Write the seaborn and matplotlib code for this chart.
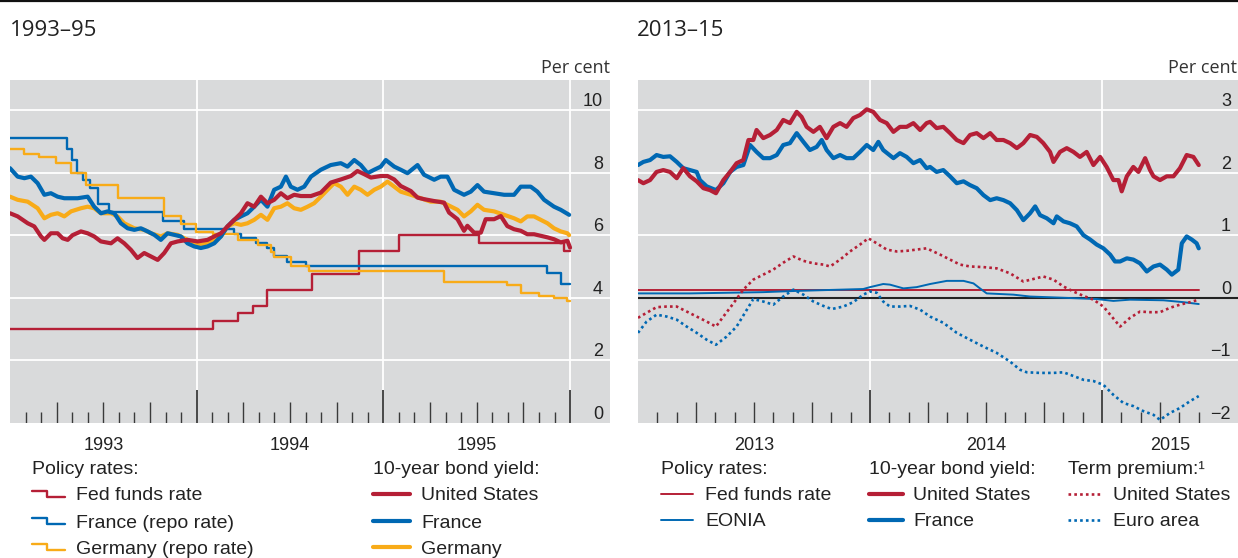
import matplotlib
matplotlib.use("Agg")
import matplotlib.pyplot as plt
from matplotlib.lines import Line2D
import matplotlib.transforms as mtransforms
import seaborn as sns

# ---------------- data, left panel (1993-95, decimal years) ----------------
# policy rates: step series, value holds until next change
ffr_93_t = [1993.0, 1994.09, 1994.22, 1994.30, 1994.375, 1994.62, 1994.87, 1995.085, 1995.51, 1995.965, 1996.0]
ffr_93_v = [3.0, 3.25, 3.5, 3.75, 4.25, 4.75, 5.5, 6.0, 5.75, 5.5, 5.5]

fra_repo_t = [1993.0, 1993.303, 1993.33, 1993.36, 1993.39, 1993.43, 1993.47, 1993.53, 1993.821, 1993.93,
              1994.201, 1994.237, 1994.317, 1994.379, 1994.415, 1994.486, 1994.585, 1995.879, 1995.95, 1996.0]
fra_repo_v = [9.1, 8.75, 8.4, 8.0, 7.75, 7.5, 7.0, 6.75, 6.45, 6.2,
              6.05, 5.9, 5.75, 5.6, 5.35, 5.15, 5.0, 4.8, 4.45, 4.45]

deu_repo_t = [1993.0, 1993.077, 1993.157, 1993.246, 1993.327, 1993.407, 1993.576, 1993.826, 1993.915, 1993.996,
              1994.085, 1994.219, 1994.326, 1994.397, 1994.415, 1994.504, 1994.602, 1995.325, 1995.664, 1995.736,
              1995.834, 1995.914, 1995.986, 1996.0]
deu_repo_v = [8.75, 8.6, 8.5, 8.3, 8.0, 7.6, 7.2, 6.6, 6.35, 6.1,
              6.05, 5.85, 5.7, 5.45, 5.3, 5.0, 4.85, 4.5, 4.4, 4.15,
              4.05, 4.0, 3.9, 3.9]

# 10-year bond yields
us10_93_t = [1993.000, 1993.041, 1993.095, 1993.130, 1993.166, 1993.184, 1993.219, 1993.255, 1993.282, 1993.309,
             1993.335, 1993.380, 1993.416, 1993.451, 1993.487, 1993.541, 1993.576, 1993.612, 1993.648, 1993.683,
             1993.719, 1993.755, 1993.791, 1993.826, 1993.862, 1993.898, 1993.951, 1994.005, 1994.058, 1994.094,
             1994.130, 1994.165, 1994.201, 1994.237, 1994.272, 1994.308, 1994.344, 1994.379, 1994.415, 1994.451,
             1994.486, 1994.522, 1994.558, 1994.612, 1994.665, 1994.718, 1994.772, 1994.826, 1994.861, 1994.897,
             1994.933, 1994.986, 1995.022, 1995.058, 1995.093, 1995.147, 1995.183, 1995.218, 1995.272, 1995.325,
             1995.352, 1995.397, 1995.432, 1995.450, 1995.486, 1995.522, 1995.548, 1995.593, 1995.629, 1995.664,
             1995.700, 1995.736, 1995.771, 1995.807, 1995.843, 1995.879, 1995.914, 1995.950, 1995.986, 1996.0]
us10_93_v = [6.70, 6.60, 6.38, 6.28, 5.96, 5.85, 6.06, 6.06, 5.90, 5.85,
             6.00, 6.12, 6.06, 5.96, 5.80, 5.74, 5.90, 5.74, 5.53, 5.27,
             5.43, 5.32, 5.21, 5.43, 5.74, 5.80, 5.85, 5.80, 5.85, 5.96,
             6.06, 6.28, 6.49, 6.70, 7.02, 6.91, 7.23, 7.02, 7.13, 7.34,
             7.18, 7.29, 7.25, 7.25, 7.36, 7.68, 7.78, 7.89, 8.05, 7.95,
             7.84, 7.89, 7.89, 7.78, 7.57, 7.41, 7.20, 7.15, 7.09, 7.04,
             6.72, 6.51, 6.14, 6.30, 6.08, 6.08, 6.51, 6.51, 6.61, 6.29,
             6.19, 6.14, 6.03, 6.03, 5.98, 5.93, 5.87, 5.77, 5.82, 5.60]

fra10_93_t = [1993.000, 1993.041, 1993.077, 1993.112, 1993.148, 1993.184, 1993.219, 1993.255, 1993.291, 1993.327,
              1993.362, 1993.416, 1993.451, 1993.487, 1993.523, 1993.559, 1993.594, 1993.630, 1993.666, 1993.701,
              1993.737, 1993.773, 1993.808, 1993.844, 1993.880, 1993.915, 1993.951, 1993.987, 1994.022, 1994.058,
              1994.094, 1994.130, 1994.165, 1994.201, 1994.237, 1994.272, 1994.308, 1994.344, 1994.379, 1994.415,
              1994.451, 1994.478, 1994.504, 1994.540, 1994.576, 1994.612, 1994.665, 1994.718, 1994.772, 1994.808,
              1994.844, 1994.879, 1994.915, 1994.951, 1994.986, 1995.013, 1995.058, 1995.093, 1995.129, 1995.183,
              1995.218, 1995.272, 1995.307, 1995.343, 1995.379, 1995.432, 1995.468, 1995.504, 1995.539, 1995.593,
              1995.647, 1995.700, 1995.736, 1995.789, 1995.825, 1995.861, 1995.914, 1995.950, 1995.995]
fra10_93_v = [8.14, 7.87, 7.82, 7.87, 7.66, 7.29, 7.34, 7.23, 7.18, 7.18,
              7.18, 7.23, 6.91, 6.70, 6.76, 6.70, 6.38, 6.22, 6.17, 6.22,
              6.12, 6.01, 5.85, 6.06, 6.01, 5.96, 5.74, 5.64, 5.59, 5.64,
              5.74, 5.96, 6.28, 6.49, 6.60, 6.70, 6.91, 7.13, 6.91, 7.45,
              7.55, 7.87, 7.55, 7.45, 7.55, 7.87, 8.09, 8.24, 8.30, 8.19,
              8.40, 8.24, 7.98, 8.09, 8.19, 8.40, 8.19, 8.09, 7.98, 8.24,
              7.93, 7.77, 7.87, 7.87, 7.45, 7.29, 7.39, 7.60, 7.39, 7.34,
              7.29, 7.29, 7.55, 7.55, 7.39, 7.13, 6.91, 6.81, 6.65]

deu10_93_t = [1993.000, 1993.041, 1993.095, 1993.148, 1993.184, 1993.219, 1993.255, 1993.291, 1993.327, 1993.380,
              1993.416, 1993.451, 1993.487, 1993.541, 1993.576, 1993.612, 1993.666, 1993.719, 1993.755, 1993.808,
              1993.844, 1993.898, 1993.951, 1993.987, 1994.022, 1994.058, 1994.094, 1994.130, 1994.165, 1994.201,
              1994.237, 1994.272, 1994.308, 1994.344, 1994.379, 1994.415, 1994.451, 1994.486, 1994.522, 1994.558,
              1994.594, 1994.629, 1994.665, 1994.701, 1994.736, 1994.772, 1994.808, 1994.844, 1994.879, 1994.915,
              1994.951, 1994.986, 1995.022, 1995.058, 1995.093, 1995.147, 1995.200, 1995.254, 1995.307, 1995.343,
              1995.397, 1995.432, 1995.468, 1995.504, 1995.539, 1995.593, 1995.647, 1995.700, 1995.736, 1995.771,
              1995.807, 1995.843, 1995.879, 1995.914, 1995.950, 1995.986, 1995.995]
deu10_93_v = [7.23, 7.13, 7.07, 6.86, 6.54, 6.65, 6.70, 6.60, 6.76, 6.86,
              6.91, 6.86, 6.70, 6.70, 6.60, 6.38, 6.22, 6.17, 6.06, 5.96,
              6.06, 6.01, 5.85, 5.74, 5.69, 5.74, 5.85, 5.96, 6.28, 6.38,
              6.33, 6.38, 6.49, 6.65, 6.49, 6.86, 6.91, 7.02, 6.86, 6.81,
              6.91, 7.02, 7.23, 7.45, 7.66, 7.55, 7.29, 7.55, 7.45, 7.29,
              7.45, 7.55, 7.71, 7.55, 7.39, 7.29, 7.18, 7.07, 7.07, 6.97,
              6.81, 6.60, 6.76, 6.97, 6.81, 6.76, 6.65, 6.54, 6.44, 6.60,
              6.60, 6.49, 6.38, 6.22, 6.12, 6.06, 6.00]

# ---------------- data, right panel (2013-15, decimal years) ----------------
ffr_13_t = [2013.0, 2015.417]
ffr_13_v = [0.13, 0.13]

eonia_t = [2013.000, 2013.224, 2013.540, 2013.684, 2013.971, 2014.000, 2014.057, 2014.086, 2014.144, 2014.201,
           2014.259, 2014.331, 2014.403, 2014.446, 2014.474, 2014.503, 2014.618, 2014.690, 2014.834, 2014.977,
           2015.049, 2015.121, 2015.265, 2015.351, 2015.417]
eonia_v = [0.07, 0.07, 0.09, 0.11, 0.14, 0.17, 0.22, 0.21, 0.15, 0.17,
           0.22, 0.27, 0.27, 0.23, 0.15, 0.07, 0.05, 0.02, 0.00, -0.02,
           -0.05, -0.03, -0.04, -0.07, -0.10]

us10_13_t = [2013.000, 2013.023, 2013.052, 2013.080, 2013.109, 2013.138, 2013.167, 2013.195, 2013.224, 2013.253,
             2013.282, 2013.310, 2013.336, 2013.368, 2013.397, 2013.425, 2013.454, 2013.476, 2013.497, 2013.511,
             2013.540, 2013.569, 2013.598, 2013.626, 2013.655, 2013.684, 2013.705, 2013.727, 2013.756, 2013.784,
             2013.813, 2013.842, 2013.871, 2013.899, 2013.928, 2013.957, 2013.986, 2014.014, 2014.043, 2014.072,
             2014.101, 2014.129, 2014.158, 2014.187, 2014.216, 2014.244, 2014.259, 2014.287, 2014.316, 2014.345,
             2014.374, 2014.403, 2014.431, 2014.460, 2014.489, 2014.518, 2014.546, 2014.575, 2014.604, 2014.633,
             2014.661, 2014.690, 2014.719, 2014.747, 2014.776, 2014.791, 2014.819, 2014.848, 2014.877, 2014.905,
             2014.934, 2014.963, 2014.992, 2015.020, 2015.049, 2015.071, 2015.085, 2015.107, 2015.135, 2015.157,
             2015.186, 2015.207, 2015.222, 2015.250, 2015.279, 2015.308, 2015.336, 2015.365, 2015.394, 2015.417]
us10_13_v = [1.88, 1.83, 1.88, 2.01, 2.04, 2.01, 1.91, 2.07, 1.94, 1.86,
             1.75, 1.72, 1.67, 1.88, 2.01, 2.15, 2.20, 2.52, 2.52, 2.68,
             2.55, 2.60, 2.68, 2.84, 2.79, 2.97, 2.89, 2.73, 2.65, 2.73,
             2.55, 2.73, 2.79, 2.73, 2.87, 2.92, 3.01, 2.97, 2.84, 2.79,
             2.65, 2.73, 2.73, 2.79, 2.68, 2.79, 2.81, 2.71, 2.73, 2.63,
             2.52, 2.47, 2.60, 2.63, 2.55, 2.63, 2.52, 2.52, 2.47, 2.39,
             2.47, 2.60, 2.57, 2.47, 2.33, 2.17, 2.33, 2.39, 2.33, 2.25,
             2.33, 2.12, 2.25, 2.09, 1.88, 1.88, 1.70, 1.94, 2.09, 2.01,
             2.23, 2.04, 1.94, 1.88, 1.94, 1.94, 2.07, 2.28, 2.25, 2.12]

fra10_13_t = [2013.000, 2013.023, 2013.052, 2013.080, 2013.109, 2013.138, 2013.167, 2013.195, 2013.224, 2013.253,
              2013.267, 2013.296, 2013.336, 2013.368, 2013.397, 2013.425, 2013.454, 2013.483, 2013.511, 2013.540,
              2013.569, 2013.598, 2013.626, 2013.655, 2013.684, 2013.713, 2013.741, 2013.770, 2013.792, 2013.813,
              2013.842, 2013.871, 2013.899, 2013.928, 2013.957, 2013.986, 2014.014, 2014.036, 2014.057, 2014.101,
              2014.129, 2014.158, 2014.187, 2014.216, 2014.244, 2014.259, 2014.287, 2014.316, 2014.345, 2014.374,
              2014.403, 2014.431, 2014.460, 2014.489, 2014.518, 2014.546, 2014.575, 2014.604, 2014.633, 2014.661,
              2014.690, 2014.712, 2014.733, 2014.762, 2014.791, 2014.805, 2014.834, 2014.862, 2014.891, 2014.920,
              2014.949, 2014.977, 2015.006, 2015.035, 2015.056, 2015.078, 2015.107, 2015.135, 2015.164, 2015.193,
              2015.222, 2015.250, 2015.279, 2015.301, 2015.329, 2015.344, 2015.365, 2015.387, 2015.408, 2015.417]
fra10_13_v = [2.12, 2.17, 2.20, 2.28, 2.25, 2.26, 2.17, 2.07, 2.04, 2.01,
              1.88, 1.78, 1.72, 1.83, 2.01, 2.09, 2.12, 2.44, 2.33, 2.23,
              2.23, 2.28, 2.44, 2.47, 2.63, 2.49, 2.36, 2.41, 2.52, 2.36,
              2.23, 2.28, 2.23, 2.23, 2.33, 2.44, 2.36, 2.49, 2.36, 2.23,
              2.31, 2.25, 2.15, 2.20, 2.07, 2.09, 2.01, 2.04, 1.94, 1.83,
              1.86, 1.80, 1.75, 1.64, 1.56, 1.59, 1.56, 1.51, 1.40, 1.24,
              1.35, 1.46, 1.32, 1.27, 1.19, 1.30, 1.22, 1.19, 1.14, 1.00,
              0.93, 0.85, 0.79, 0.69, 0.58, 0.58, 0.63, 0.61, 0.55, 0.42,
              0.50, 0.53, 0.45, 0.37, 0.45, 0.87, 0.98, 0.93, 0.87, 0.79]

tp_us_t = [2013.000, 2013.037, 2013.080, 2013.124, 2013.167, 2013.210, 2013.253, 2013.296, 2013.336, 2013.368,
           2013.411, 2013.454, 2013.497, 2013.540, 2013.583, 2013.626, 2013.670, 2013.713, 2013.756, 2013.799,
           2013.828, 2013.871, 2013.914, 2013.957, 2013.993, 2014.029, 2014.072, 2014.115, 2014.158, 2014.201,
           2014.244, 2014.302, 2014.345, 2014.388, 2014.431, 2014.489, 2014.546, 2014.604, 2014.661, 2014.704,
           2014.747, 2014.791, 2014.834, 2014.877, 2014.920, 2014.963, 2015.006, 2015.042, 2015.078, 2015.121,
           2015.164, 2015.207, 2015.250, 2015.293, 2015.336, 2015.380, 2015.417]
tp_us_v = [-0.32, -0.24, -0.15, -0.14, -0.14, -0.22, -0.30, -0.38, -0.46, -0.30,
           -0.09, 0.13, 0.29, 0.37, 0.45, 0.56, 0.66, 0.59, 0.55, 0.53,
           0.50, 0.61, 0.74, 0.85, 0.95, 0.87, 0.77, 0.74, 0.75, 0.77,
           0.79, 0.69, 0.61, 0.53, 0.50, 0.49, 0.47, 0.39, 0.26, 0.30,
           0.34, 0.29, 0.18, 0.10, 0.03, -0.03, -0.14, -0.30, -0.46, -0.32,
           -0.22, -0.23, -0.23, -0.16, -0.11, -0.07, -0.03]

tp_ea_t = [2013.000, 2013.037, 2013.080, 2013.124, 2013.167, 2013.210, 2013.253, 2013.296, 2013.336, 2013.382,
           2013.425, 2013.461, 2013.497, 2013.540, 2013.583, 2013.626, 2013.670, 2013.713, 2013.756, 2013.799,
           2013.835, 2013.885, 2013.928, 2013.971, 2014.000, 2014.029, 2014.057, 2014.086, 2014.129, 2014.172,
           2014.216, 2014.259, 2014.316, 2014.374, 2014.431, 2014.489, 2014.546, 2014.604, 2014.647, 2014.676,
           2014.733, 2014.791, 2014.834, 2014.877, 2014.920, 2014.963, 2015.006, 2015.049, 2015.092, 2015.135,
           2015.178, 2015.222, 2015.250, 2015.293, 2015.336, 2015.380, 2015.417]
tp_ea_v = [-0.56, -0.38, -0.27, -0.30, -0.35, -0.46, -0.56, -0.67, -0.75, -0.62,
           -0.46, -0.24, -0.02, -0.06, -0.11, 0.02, 0.13, 0.05, -0.06, -0.13,
           -0.18, -0.14, -0.07, 0.05, 0.10, 0.08, -0.06, -0.14, -0.14, -0.13,
           -0.19, -0.30, -0.40, -0.56, -0.67, -0.78, -0.88, -1.02, -1.15, -1.19,
           -1.20, -1.20, -1.19, -1.25, -1.31, -1.33, -1.39, -1.55, -1.68, -1.73,
           -1.81, -1.87, -1.95, -1.84, -1.76, -1.65, -1.57]

# axis labels
left_yticks = [0, 2, 4, 6, 8, 10]
left_yticklabels = ["0", "2", "4", "6", "8", "10"]
right_yticks = [-2, -1, 0, 1, 2, 3]
right_yticklabels = ["\u22122", "\u22121", "0", "1", "2", "3"]
left_years = [1993, 1994, 1995]
right_years = [2013, 2014, 2015]

RED = "#b51f36"
BLUE = "#0068b3"
YELLOW = "#f8ab18"
BG = "#d9dadb"
TXT = "#222222"

W, H = 1238, 558

sns.set_theme(style="white")
plt.rcParams["font.family"] = ["Liberation Sans", "DejaVu Sans"]


def fx(px):
    return px / W


def fy(py):
    return 1 - py / H


def draw(ax, t, v, color, lw, **kw):
    sns.lineplot(x=t, y=v, ax=ax, color=color, linewidth=lw, estimator=None,
                 sort=False, errorbar=None, **kw)


def dress(ax, t0, n_months, x_right, ylo, yhi, grid, yticks, ylabels, years, year_lines):
    ax.set_facecolor(BG)
    ax.set_xlim(t0, x_right)
    ax.set_ylim(ylo, yhi)
    for s in ax.spines.values():
        s.set_visible(False)
    for g in grid:
        ax.axhline(g, color="white", lw=1.3, zorder=1)
    for yl in year_lines:
        ax.axvline(yl, color="white", lw=1.3, zorder=1)
    # monthly tick marks growing from the bottom edge
    trans = ax.get_xaxis_transform()
    for m in range(1, n_months + 1):
        if m % 12 == 0:
            h, lw = 33 / 343, 1.3
        elif m % 3 == 0:
            h, lw = 21 / 343, 1.0
        else:
            h, lw = 11 / 343, 1.0
        ax.vlines(t0 + m / 12, 0, h, transform=trans, color="#3a3a3a", lw=lw, zorder=2)
    # year labels centred on the visible part of each year
    pos = [(y + min(y + 1, x_right)) / 2 for y in years]
    ax.set_xticks(pos)
    ax.set_xticklabels([str(y) for y in years], fontsize=13, color=TXT)
    ax.tick_params(axis="x", length=0, pad=10)
    ax.set_yticks([])
    ax.set_ylabel("")
    ytrans = mtransforms.blended_transform_factory(ax.transAxes, ax.transData)
    for v, lab in zip(yticks, ylabels):
        ax.text(1 - 7 / 600, v, lab, transform=ytrans, ha="right", va="bottom",
                fontsize=13, color=TXT)


fig = plt.figure(figsize=(W / 100, H / 100), dpi=100)
ax1 = fig.add_axes([fx(10), fy(423), 600 / W, 343 / H])
ax2 = fig.add_axes([fx(638), fy(423), 600 / W, 343 / H])

# left panel
dress(ax1, 1993.0, 36, 1993.0 + 601 / 187, 0, 10 + 30 / 31.35, [2, 4, 6, 8, 10],
      left_yticks, left_yticklabels, left_years, [1994, 1995, 1996])
draw(ax1, ffr_93_t, ffr_93_v, RED, 1.7, drawstyle="steps-post", zorder=3)
draw(ax1, fra_repo_t, fra_repo_v, BLUE, 1.7, drawstyle="steps-post", zorder=3)
draw(ax1, deu_repo_t, deu_repo_v, YELLOW, 1.7, drawstyle="steps-post", zorder=3)
draw(ax1, deu10_93_t, deu10_93_v, YELLOW, 3.0, zorder=4)
draw(ax1, fra10_93_t, fra10_93_v, BLUE, 3.0, zorder=4)
draw(ax1, us10_93_t, us10_93_v, RED, 3.0, zorder=5)

# right panel
dress(ax2, 2013.0, 29, 2013.0 + 600 / 232, -2, 3 + 30 / 62.7, [-1, 1, 2, 3],
      right_yticks, right_yticklabels, right_years, [2014, 2015])
ax2.axhline(0, color="#222222", lw=1.5, zorder=2)
draw(ax2, ffr_13_t, ffr_13_v, RED, 1.4, zorder=3)
draw(ax2, eonia_t, eonia_v, BLUE, 1.4, zorder=3)
draw(ax2, tp_us_t, tp_us_v, RED, 1.9, linestyle=(0, (1, 1.2)), zorder=3)
draw(ax2, tp_ea_t, tp_ea_v, BLUE, 1.9, linestyle=(0, (1, 1.2)), zorder=3)
draw(ax2, fra10_13_t, fra10_13_v, BLUE, 3.0, zorder=4)
draw(ax2, us10_13_t, us10_13_v, RED, 3.0, zorder=5)

# top rule, titles, unit labels
fig.add_artist(Line2D([0, 1], [fy(1), fy(1)], transform=fig.transFigure, color="#111111", lw=1.6))
for x0, title in [(10, "1993\u201395"), (637, "2013\u201315")]:
    fig.text(fx(x0), fy(31), title, ha="left", va="center", fontsize=16,
             family=["Open Sans", "DejaVu Sans"], color=TXT)
for x1 in [610, 1237]:
    fig.text(fx(x1), fy(68), "Per cent", ha="right", va="center", fontsize=13,
             family=["Open Sans", "DejaVu Sans"], color="#333333")


# legends, drawn by hand (step glyphs for policy rates)
def leg_text(x, y, s):
    fig.text(fx(x), fy(y + 2), s, ha="left", va="center", fontsize=14, color=TXT)


def leg_line(x0, x1, y, color, lw, **kw):
    fig.add_artist(Line2D([fx(x0), fx(x1)], [fy(y), fy(y)], transform=fig.transFigure,
                          color=color, lw=lw, **kw))


def leg_step(x0, y, color):
    xs = [x0, x0 + 15, x0 + 15, x0 + 33]
    ys = [y - 3, y - 3, y + 3, y + 3]
    fig.add_artist(Line2D([fx(v) for v in xs], [fy(v) for v in ys], transform=fig.transFigure,
                          color=color, lw=1.7))


rows = [494, 521, 547]
leg_text(32, 467, "Policy rates:")
for r, c, lab in zip(rows, [RED, BLUE, YELLOW],
                     ["Fed funds rate", "France (repo rate)", "Germany (repo rate)"]):
    leg_step(32, r, c)
    leg_text(76, r, lab)
leg_text(373, 467, "10-year bond yield:")
for r, c, lab in zip(rows, [RED, BLUE, YELLOW], ["United States", "France", "Germany"]):
    leg_line(373, 410, r, c, 3.0)
    leg_text(421, r, lab)

rows2 = [494, 520]
leg_text(661, 467, "Policy rates:")
for r, c, lab in zip(rows2, [RED, BLUE], ["Fed funds rate", "EONIA"]):
    leg_line(661, 693, r, c, 1.4)
    leg_text(705, r, lab)
leg_text(869, 467, "10-year bond yield:")
for r, c, lab in zip(rows2, [RED, BLUE], ["United States", "France"]):
    leg_line(869, 903, r, c, 3.0)
    leg_text(913, r, lab)
leg_text(1068, 467, "Term premium:\u00b9")
for r, c, lab in zip(rows2, [RED, BLUE], ["United States", "Euro area"]):
    leg_line(1068, 1102, r, c, 1.9, linestyle=(0, (1, 1.2)))
    leg_text(1113, r, lab)

fig.savefig("out.png", dpi=100)
